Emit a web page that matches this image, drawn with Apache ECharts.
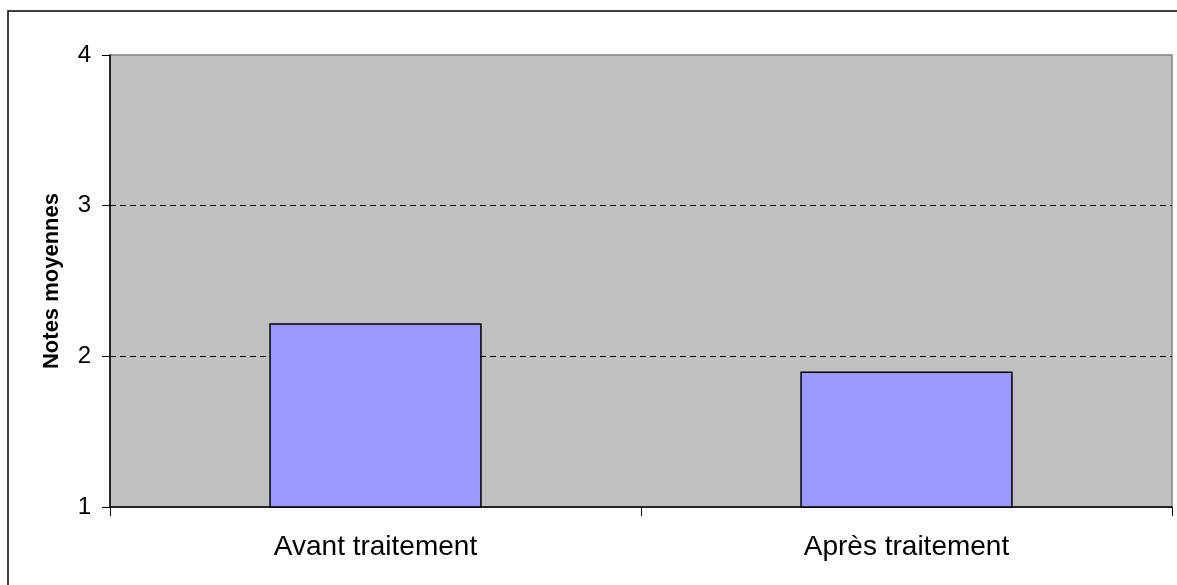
<!DOCTYPE html>
<html>
<head>
<meta charset="utf-8">
<script src="https://cdn.jsdelivr.net/npm/echarts@6/dist/echarts.min.js"></script>
<style>
html,body{margin:0;padding:0;background:#fff;}
#c{width:1177px;height:585px;}
</style>
</head>
<body>
<div id="c"></div>
<script>
var categories = ['Avant traitement', 'Après traitement'];
var values = [2.22, 1.9];
var yTicks = [1, 2, 3, 4];
var yTitle = 'Notes moyennes';

var FONT = '"Liberation Sans", Arial, sans-serif';
var chart = echarts.init(document.getElementById('c'), null, {renderer: 'canvas'});
chart.setOption({
  animation: false,
  backgroundColor: '#ffffff',
  graphic: [{
    type: 'rect',
    shape: {x: 8, y: 11, width: 1200, height: 600},
    style: {fill: 'none', stroke: '#000', lineWidth: 1.5},
    silent: true, z: 0
  }],
  grid: {
    left: 110, right: 5, top: 55, bottom: 78,
    show: true, backgroundColor: '#C0C0C0',
    borderColor: '#808080', borderWidth: 1.5
  },
  xAxis: {
    type: 'category',
    data: categories,
    axisLine: {lineStyle: {color: '#000', width: 1.5}},
    axisTick: {show: true, length: 9, lineStyle: {color: '#000', width: 1}},
    axisLabel: {color: '#000', fontSize: 28, fontFamily: FONT, margin: 26},
    splitLine: {show: false}
  },
  yAxis: {
    type: 'value',
    min: yTicks[0], max: yTicks[yTicks.length - 1], interval: 1,
    name: yTitle,
    nameLocation: 'middle',
    nameRotate: 90,
    nameGap: 47,
    nameTextStyle: {color: '#000', fontSize: 22, fontWeight: 'bold', fontFamily: FONT},
    axisLine: {show: true, lineStyle: {color: '#000', width: 1.5}},
    axisTick: {show: true, length: 8, lineStyle: {color: '#000', width: 1}},
    axisLabel: {color: '#000', fontSize: 24, fontFamily: FONT, margin: 19},
    splitLine: {show: true, showMinLine: false, showMaxLine: false,
      lineStyle: {color: '#000', type: [6, 4], width: 1}}
  },
  series: [{
    type: 'bar',
    data: values,
    barWidth: '40%',
    itemStyle: {color: '#9999FF', borderColor: '#000', borderWidth: 1.5}
  }]
});
</script>
</body>
</html>
